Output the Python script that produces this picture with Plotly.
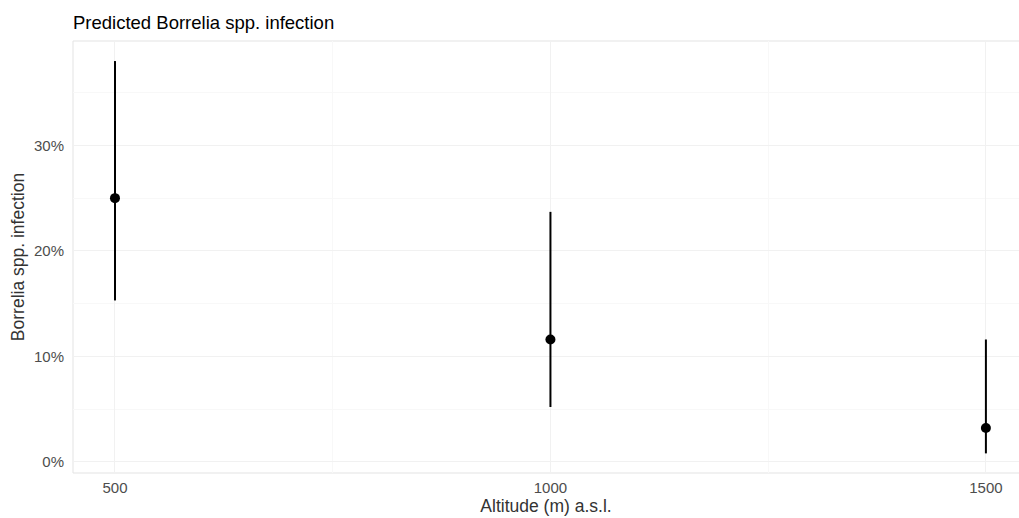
import plotly.graph_objects as go

altitude = [500, 1000, 1500]
predicted = [0.250, 0.116, 0.032]
lower = [0.153, 0.052, 0.008]
upper = [0.380, 0.237, 0.116]

y_ticks = [0.0, 0.1, 0.2, 0.3]
y_tick_labels = ["0%", "10%", "20%", "30%"]
x_ticks = [500, 1000, 1500]

err_plus = [u - p for u, p in zip(upper, predicted)]
err_minus = [p - l for p, l in zip(predicted, lower)]

fig = go.Figure()
fig.add_trace(go.Scatter(
    x=altitude, y=predicted, mode="markers",
    marker=dict(color="black", size=10),
    error_y=dict(type="data", symmetric=False, array=err_plus, arrayminus=err_minus,
                 color="black", thickness=2, width=0),
    showlegend=False,
))

grid_major = "#f1f1f1"
grid_minor = "#f8f8f8"
font = "Liberation Sans, Arial, sans-serif"

fig.update_layout(
    width=1019, height=518,
    margin=dict(l=73, r=0, t=41, b=45),
    paper_bgcolor="white", plot_bgcolor="white",
    font=dict(family=font, color="#4d4d4d", size=15),
    title=dict(text="Predicted Borrelia spp. infection", x=73/1019, xanchor="left",
               y=1 - 23/518, yanchor="middle",
               font=dict(family=font, size=18.5, color="black")),
    xaxis=dict(range=[451.8, 1538], tickvals=x_ticks, ticktext=[str(v) for v in x_ticks],
               showgrid=True, gridcolor=grid_major, gridwidth=1,
               minor=dict(tickvals=[750, 1250], showgrid=True, gridcolor=grid_minor),
               zeroline=False, showline=False, ticks="", ticklen=0,
               ticklabelstandoff=4,
               tickfont=dict(size=15, color="#4d4d4d"),
               title=dict(text="Altitude (m) a.s.l.", standoff=2,
                          font=dict(size=17.5, color="#333333"))),
    yaxis=dict(range=[-0.0106, 0.399], tickvals=y_ticks, ticktext=y_tick_labels,
               showgrid=True, gridcolor=grid_major, gridwidth=1,
               minor=dict(tickvals=[0.05, 0.15, 0.25, 0.35], showgrid=True, gridcolor=grid_minor),
               zeroline=False, showline=False, ticks="", ticklen=0,
               ticklabelstandoff=8,
               tickfont=dict(size=15, color="#4d4d4d"),
               title=dict(text="Borrelia spp. infection", standoff=4,
                          font=dict(size=17.5, color="#333333"))),
    shapes=[
        dict(type="rect", xref="paper", yref="paper", x0=0, x1=1.01, y0=0, y1=1,
             line=dict(color="#e3e3e3", width=1), layer="below"),
    ],
)

fig.write_html("out.html")
